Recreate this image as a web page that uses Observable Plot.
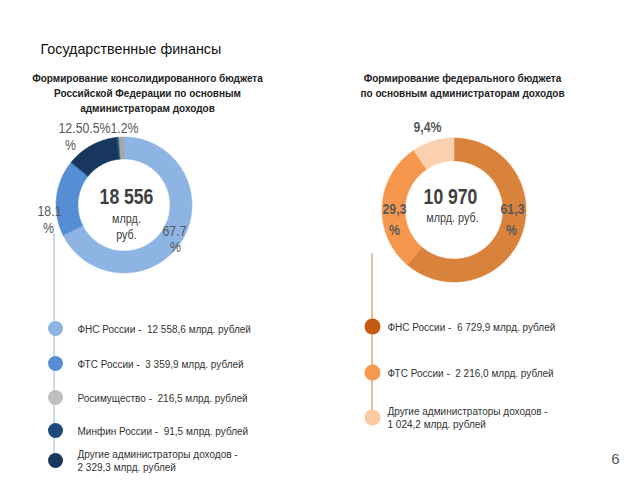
<!DOCTYPE html>
<html>
<head>
<meta charset="utf-8">
<script src="https://cdn.jsdelivr.net/npm/d3@7"></script>
<script src="https://cdn.jsdelivr.net/npm/@observablehq/plot@0.6"></script>
<style>
  html, body { margin: 0; padding: 0; background: #fff; }
  svg { display: block; }
</style>
</head>
<body>
<div id="chart"></div>
<script>
// ---------- Data ----------
const titleText = "Государственные финансы";
const leftSubtitle = ["Формирование консолидированного бюджета", "Российской Федерации по основным", "администраторам доходов"];
const rightSubtitle = ["Формирование федерального бюджета", "по основным администраторам доходов"];

const leftCategories = ["ФНС России", "ФТС России", "Росимущество", "Минфин России", "Другие администраторы доходов"];
const leftValues = [12558.6, 3359.9, 216.5, 91.5, 2329.3];
const leftValueLabels = ["12 558,6", "3 359,9", "216,5", "91,5", "2 329,3"];
const leftPercentLabels = ["67.7", "18.1", "1.2%", "0.5%", "12.5"];
const leftRingOrder = [0, 1, 4, 3, 2]; // clockwise from 12 o'clock
const leftTotal = "18 556";

const rightCategories = ["ФНС России", "ФТС России", "Другие администраторы доходов"];
const rightValues = [6729.9, 2216.0, 1024.2];
const rightValueLabels = ["6 729,9", "2 216,0", "1 024,2"];
const rightShares = [61.3, 29.3, 9.4];
const rightPercentLabels = ["61,3", "29,3", "9,4%"];
const rightRingOrder = [0, 1, 2];
const rightTotal = "10 970";

const pageNumber = "6";

// ---------- Styles / layout ----------
const leftRingColors = ["#8EB4E3", "#558ED5", "#A6A6A6", "#1F497D", "#17375E"];
const leftDotColors = ["#8EB4E3", "#558ED5", "#BFBFBF", "#1F497D", "#17375E"];
const rightRingColors = ["#D8823C", "#F5974C", "#FAD0AE"];
const rightDotColors = ["#C55A11", "#F59A4E", "#FBC9A2"];

const leftRing = {cx: 124, cy: 205, r0: 46, r1: 68};
const rightRing = {cx: 454, cy: 210, r0: 49, r1: 72};

function ringRows(values, order, colors, g) {
  const arcs = d3.pie().sort(null)(order.map(i => values[i]));
  const rows = [];
  arcs.forEach((a, k) => {
    const i = order[k];
    const n = Math.max(2, Math.ceil((a.endAngle - a.startAngle) / 0.01));
    for (let j = 0; j <= n; j++) {
      const t = a.startAngle + (a.endAngle - a.startAngle) * j / n;
      rows.push({
        key: i, color: colors[i],
        x1: g.cx + g.r0 * Math.sin(t), y1: g.cy - g.r0 * Math.cos(t),
        x2: g.cx + g.r1 * Math.sin(t), y2: g.cy - g.r1 * Math.cos(t)
      });
    }
  });
  return rows;
}

const leftRows = ringRows(leftValues, leftRingOrder, leftRingColors, leftRing);
const rightRows = ringRows(rightShares, rightRingOrder, rightRingColors, rightRing);

// percent label placement (annotation anchors)
const leftPctPos = [
  {t: leftPercentLabels[0], x: 174, y: 231}, {t: "%", x: 175, y: 247},
  {t: leftPercentLabels[1], x: 49, y: 211}, {t: "%", x: 48, y: 228},
  {t: leftPercentLabels[4], x: 70, y: 128}, {t: "%", x: 70, y: 145},
  {t: leftPercentLabels[3], x: 96, y: 128},
  {t: leftPercentLabels[2], x: 124, y: 128}
];
const rightPctPos = [
  {t: rightPercentLabels[0], x: 512, y: 209}, {t: "%", x: 511, y: 230},
  {t: rightPercentLabels[1], x: 394, y: 209}, {t: "%", x: 394, y: 230},
  {t: rightPercentLabels[2], x: 427, y: 127}
];

const leftLegendY = [328, 363, 397, 430, 460];
const rightLegendY = [326, 372, 417];

const leftLegend = leftCategories.map((c, i) => ({
  color: leftDotColors[i], y: leftLegendY[i],
  text: i === 4 ? `${c} -\n${leftValueLabels[i]} млрд. рублей` : `${c} -  ${leftValueLabels[i]} млрд. рублей`
}));
const rightLegend = rightCategories.map((c, i) => ({
  color: rightDotColors[i], y: rightLegendY[i],
  text: i === 2 ? `${c} -\n${rightValueLabels[i]} млрд. рублей` : `${c} -  ${rightValueLabels[i]} млрд. рублей`
}));

const font = "'Liberation Sans', Arial, sans-serif";
// font-size -> horizontal squeeze, emulating the original's narrow typeface
const NARROW = {"22": 0.8, "13.5": 0.8, "14.5": 0.85};

const chart = Plot.plot({
  width: 640, height: 480, margin: 0,
  x: {domain: [0, 640], range: [0, 640], axis: null},
  y: {domain: [0, 480], range: [0, 480], axis: null},
  color: {type: "identity"},
  style: {fontFamily: font, background: "#fff"},
  marks: [
    // titles
    Plot.text([titleText], {x: () => 40, y: () => 49, text: d => d, textAnchor: "start", fontSize: 14.3, fill: "#111"}),
    Plot.text(leftSubtitle, {x: () => 147, y: (d, i) => 78 + i * 15, text: d => d, fontSize: 10, fontWeight: "bold", fill: "#222"}),
    Plot.text(rightSubtitle, {x: () => 462, y: (d, i) => 78 + i * 15, text: d => d, fontSize: 10, fontWeight: "bold", fill: "#222"}),

    // timeline lines
    Plot.ruleX([53.5], {x: d => d, y1: 233, y2: 462, stroke: "#B9CDE5", strokeWidth: 1.5}),
    Plot.ruleX([371.5], {x: d => d, y1: 253, y2: 418, stroke: "#E3A776", strokeWidth: 1.5}),

    // rings
    Plot.area(leftRows, {x1: "x1", y1: "y1", x2: "x2", y2: "y2", z: "key", fill: "color", stroke: "color", strokeWidth: 0.5, curve: "linear"}),
    Plot.area(rightRows, {x1: "x1", y1: "y1", x2: "x2", y2: "y2", z: "key", fill: "color", stroke: "color", strokeWidth: 0.5, curve: "linear"}),

    // centre totals (narrowed after render)
    Plot.text([leftTotal], {x: () => leftRing.cx + 2, y: () => 196, text: d => d, fontSize: 22, fontWeight: "bold", fill: "#404040"}),
    Plot.text(["млрд.", "руб."], {x: () => leftRing.cx + 2, y: (d, i) => 218 + i * 16, text: d => d, fontSize: 13.5, fill: "#404040"}),
    Plot.text([rightTotal], {x: () => 450, y: () => 196, text: d => d, fontSize: 22, fontWeight: "bold", fill: "#404040"}),
    Plot.text(["млрд. руб."], {x: () => 452, y: () => 217, text: d => d, fontSize: 13.5, fill: "#404040"}),

    // percent labels
    Plot.text(leftPctPos, {x: "x", y: "y", text: "t", fontSize: 14.5, fill: "#595959"}),
    Plot.text(rightPctPos, {x: "x", y: "y", text: "t", fontSize: 14.5, fontWeight: "bold", fill: "#595959"}),

    // legends
    Plot.dot(leftLegend, {x: () => 55, y: "y", r: 7.5, fill: "color"}),
    Plot.text(leftLegend, {x: () => 77, y: "y", text: "text", textAnchor: "start", fontSize: 10, fill: "#333", lineHeight: 1.3}),
    Plot.dot(rightLegend, {x: () => 372, y: "y", r: 8, fill: "color"}),
    Plot.text(rightLegend, {x: () => 387, y: "y", text: "text", textAnchor: "start", fontSize: 10, fill: "#333", lineHeight: 1.3}),

    // page number
    Plot.text([pageNumber], {x: () => 615, y: () => 459, text: d => d, fontSize: 15, fill: "#595959"})
  ]
});

d3.select(chart).selectAll("g")
  .filter(function () { return this.getAttribute("font-size") in NARROW; })
  .each(function () {
    const k = NARROW[this.getAttribute("font-size")];
    d3.select(this).selectAll("text").each(function () {
      const el = d3.select(this);
      const x = +el.attr("x") || 0, y = +el.attr("y") || 0;
      const tr = el.attr("transform") || "";
      el.attr("transform", `${tr} translate(${x},${y}) scale(${k},1) translate(${-x},${-y})`);
    });
  });

document.getElementById("chart").appendChild(chart);
</script>
</body>
</html>
